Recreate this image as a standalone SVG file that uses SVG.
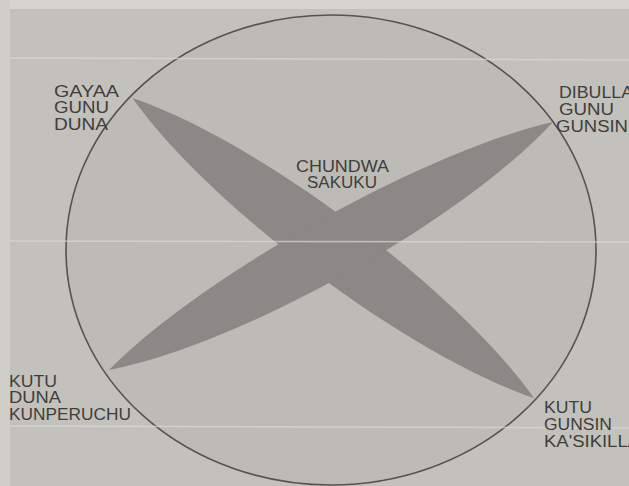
<svg xmlns="http://www.w3.org/2000/svg" width="629" height="486" viewBox="0 0 629 486">
  <style>
    .lbl { font-family: "Liberation Sans", Arial, sans-serif; font-size: 16px; fill: #403e3b; }
    .blade { fill: #8b8985; }
    .crease { stroke: #dcdad6; stroke-width: 1.5; opacity: 0.7; }
  </style>
  <rect x="0" y="0" width="629" height="486" fill="#c3c1bc"/>
  <rect x="0" y="0" width="629" height="9" fill="#d6d4d0"/>
  <rect x="0" y="0" width="10" height="486" fill="#d0cec9"/>
  <g id="circle">
    <ellipse cx="331" cy="250" rx="265" ry="235" fill="#bdbbb6" stroke="#55534f" stroke-width="1.6"/>
  </g>
  <g id="cross">
    <path class="blade" d="M132.5,98 C257.5,140.3 458.2,290.4 534,398 C409,356 208.3,205.9 132.5,98 Z"/>
    <path class="blade" d="M109,370 C201.9,275.6 423.9,151.5 553,122 C462.5,220.5 240.5,344.6 109,370 Z"/>
  </g>
  <g id="creases">
    <line class="crease" x1="10" y1="58" x2="629" y2="60"/>
    <line class="crease" x1="10" y1="241" x2="629" y2="242"/>
    <line class="crease" x1="10" y1="426" x2="629" y2="428"/>
  </g>
  <g id="label-top-left">
    <text class="lbl" x="54" y="97" textLength="65" lengthAdjust="spacingAndGlyphs">GAYAA</text>
    <text class="lbl" x="54" y="113" textLength="55" lengthAdjust="spacingAndGlyphs">GUNU</text>
    <text class="lbl" x="54" y="130" textLength="54" lengthAdjust="spacingAndGlyphs">DUNA</text>
  </g>
  <g id="label-top-right">
    <text class="lbl" x="559" y="98" textLength="74" lengthAdjust="spacingAndGlyphs">DIBULLA</text>
    <text class="lbl" x="559" y="115" textLength="55" lengthAdjust="spacingAndGlyphs">GUNU</text>
    <text class="lbl" x="556" y="132" textLength="72" lengthAdjust="spacingAndGlyphs">GUNSIN</text>
  </g>
  <g id="label-center">
    <text class="lbl" x="296" y="172" textLength="93" lengthAdjust="spacingAndGlyphs">CHUNDWA</text>
    <text class="lbl" x="307" y="188" textLength="70" lengthAdjust="spacingAndGlyphs">SAKUKU</text>
  </g>
  <g id="label-bottom-left">
    <text class="lbl" x="9" y="387" textLength="48" lengthAdjust="spacingAndGlyphs">KUTU</text>
    <text class="lbl" x="9" y="403" textLength="52" lengthAdjust="spacingAndGlyphs">DUNA</text>
    <text class="lbl" x="9" y="420" textLength="122" lengthAdjust="spacingAndGlyphs">KUNPERUCHU</text>
  </g>
  <g id="label-bottom-right">
    <text class="lbl" x="544" y="413" textLength="48" lengthAdjust="spacingAndGlyphs">KUTU</text>
    <text class="lbl" x="544" y="430" textLength="68" lengthAdjust="spacingAndGlyphs">GUNSIN</text>
    <text class="lbl" x="544" y="447" textLength="96" lengthAdjust="spacingAndGlyphs">KA'SIKILLA</text>
  </g>
</svg>
